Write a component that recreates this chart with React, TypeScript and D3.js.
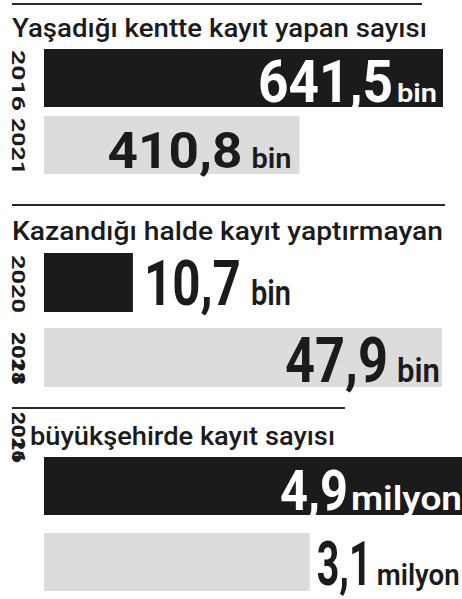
import React from "react";
import * as d3 from "d3";

// ---------- data ----------
const sectionTitles = [
  "Yaşadığı kentte kayıt yapan sayısı",
  "Kazandığı halde kayıt yaptırmayan",
  "büyükşehirde kayıt sayısı",
];
const section1Years = ["2016", "2021"];
const section1Values = [641.5, 410.8];
const section1Labels = ["641,5", "410,8"];
const section2Years = ["2020", "2018|2021"];
const section2Values = [10.7, 47.9];
const section2Labels = ["10,7", "47,9"];
const section3Years = ["2016|2021"];
const section3Values = [4.9, 3.1];
const section3Labels = ["4,9", "3,1"];
const units = ["bin", "bin", "milyon"];

// ---------- layout / style ----------
const BLACK = "#1b1b1b";
const GRAY = "#dcdcdc";
const FONT = "Roboto, 'Noto Sans', sans-serif";
const X0 = 44;
const CAP = 0.711; // Roboto cap height / em
const ASC = 0.75;  // Roboto lowercase ascender / em

let _ctx: CanvasRenderingContext2D | null = null;
function emWidth(str: string, weight: number): number {
  if (!_ctx) _ctx = document.createElement("canvas").getContext("2d");
  if (!_ctx) return 0.56 * str.length;
  _ctx.font = `${weight} 100px Roboto`;
  return _ctx.measureText(str).width / 100;
}

type LabelStyle = {
  numW: number; numCap: number; unitW: number; unitH: number; gap: number;
  place: "in" | "out"; pad: number; base: number; color: string;
};
type SectionLayout = {
  lineY: number; lineX2: number; titleX: number; titleBase: number; titleW: number;
  barY: number[]; barH: number; maxW: number;
  yearY: number[]; yearLen: number[];
  labels: LabelStyle[];
};

const layouts: SectionLayout[] = [
  {
    lineY: 4, lineX2: 422, titleX: 12, titleBase: 37, titleW: 415,
    barY: [49, 116], barH: 58, maxW: 399,
    yearY: [50, 118], yearLen: [61, 57],
    labels: [
      { numW: 135, numCap: 42, unitW: 40, unitH: 20, gap: 4, place: "in", pad: 6, base: 53, color: "#fff" },
      { numW: 135, numCap: 35, unitW: 40, unitH: 21, gap: 9, place: "in", pad: 8, base: 52, color: BLACK },
    ],
  },
  {
    lineY: 205, lineX2: 445, titleX: 12, titleBase: 240, titleW: 431,
    barY: [253, 328], barH: 59, maxW: 398,
    yearY: [255, 332], yearLen: [58, 53],
    labels: [
      { numW: 97, numCap: 45, unitW: 40, unitH: 27, gap: 10, place: "out", pad: 11, base: 52, color: BLACK },
      { numW: 103, numCap: 45, unitW: 43, unitH: 25, gap: 9, place: "in", pad: 2, base: 54, color: BLACK },
    ],
  },
  {
    lineY: 408, lineX2: 345, titleX: 30, titleBase: 445, titleW: 305,
    barY: [457, 533], barH: 58, maxW: 420,
    yearY: [412], yearLen: [51],
    labels: [
      { numW: 68, numCap: 40, unitW: 111, unitH: 25, gap: 3, place: "in", pad: 2, base: 53, color: "#fff" },
      { numW: 55, numCap: 43, unitW: 83, unitH: 22, gap: 5, place: "out", pad: 7, base: 52, color: BLACK },
    ],
  },
];

const sections = [
  { title: sectionTitles[0], years: section1Years, values: section1Values, labels: section1Labels, unit: units[0] },
  { title: sectionTitles[1], years: section2Years, values: section2Values, labels: section2Labels, unit: units[1] },
  { title: sectionTitles[2], years: section3Years, values: section3Values, labels: section3Labels, unit: units[2] },
];

function FitText({ x, y, str, w, h, ratio, weight, color }:
  { x: number; y: number; str: string; w: number; h: number; ratio: number; weight: number; color: string }) {
  const em = emWidth(str, weight) || 0.56 * str.length;
  const fs = w / em;
  const sy = h / (ratio * fs);
  return (
    <text transform={`translate(${x},${y}) scale(1,${sy})`} fontFamily={FONT} fontWeight={weight}
      fontSize={fs} fill={color} textLength={w} lengthAdjust="spacingAndGlyphs">{str}</text>
  );
}

function Section({ s, L }: { s: typeof sections[number]; L: SectionLayout }) {
  const x = d3.scaleLinear().domain([0, d3.max(s.values) as number]).range([0, L.maxW]);
  return (
    <g>
      <line x1={12} x2={L.lineX2} y1={L.lineY} y2={L.lineY} stroke="#2a2a2a" strokeWidth={2.2} />
      <text x={L.titleX} y={L.titleBase} fontFamily={FONT} fontWeight={500} fontSize={25}
        fill={BLACK} textLength={L.titleW} lengthAdjust="spacingAndGlyphs">{s.title}</text>
      {s.years.map((yr, i) =>
        yr.split("|").map((t, k) => (
          <text key={i + "-" + k} transform={`translate(12,${L.yearY[i]}) rotate(90)`}
            fontFamily={FONT} fontWeight={700} fontSize={18} fill={BLACK}
            textLength={L.yearLen[i]} lengthAdjust="spacingAndGlyphs">{t}</text>
        ))
      )}
      {s.values.map((v, i) => {
        const ls = L.labels[i];
        const barEnd = X0 + x(v);
        const numX = ls.place === "in"
          ? barEnd - ls.pad - ls.unitW - ls.gap - ls.numW
          : barEnd + ls.pad;
        const unitX = numX + ls.numW + ls.gap;
        const base = L.barY[i] + ls.base;
        return (
          <g key={i}>
            <rect x={X0} y={L.barY[i]} width={x(v)} height={L.barH} fill={i === 0 ? BLACK : GRAY} />
            <FitText x={numX} y={base} str={s.labels[i]} w={ls.numW} h={ls.numCap} ratio={CAP}
              weight={700} color={ls.color} />
            <FitText x={unitX} y={base} str={s.unit} w={ls.unitW} h={ls.unitH} ratio={ASC}
              weight={600} color={ls.color} />
          </g>
        );
      })}
    </g>
  );
}

export default function App() {
  return (
    <svg width={462} height={599} viewBox="0 0 462 599"
      style={{ position: "absolute", left: 0, top: 0, background: "#fff", display: "block" }}>
      <rect width={462} height={599} fill="#fff" />
      {sections.map((s, i) => (
        <Section key={i} s={s} L={layouts[i]} />
      ))}
    </svg>
  );
}
